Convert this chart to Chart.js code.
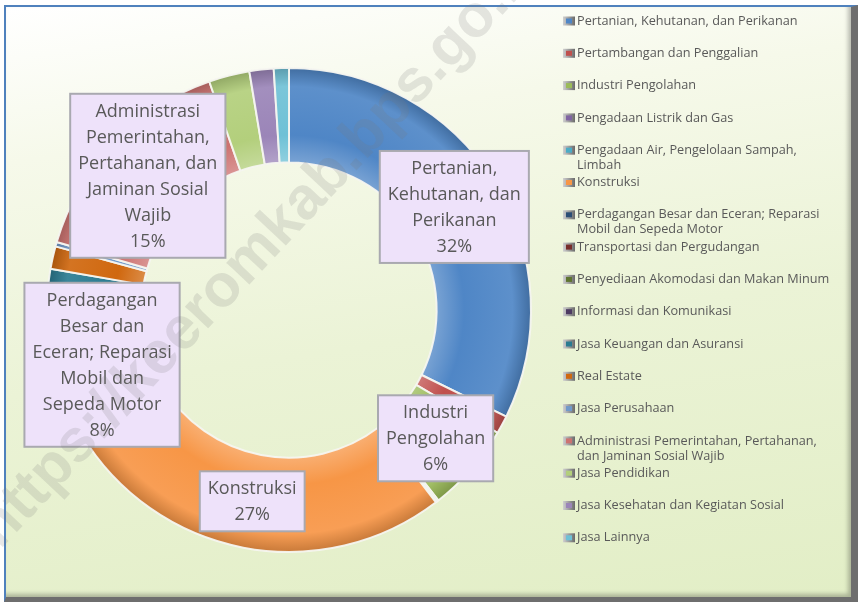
<!DOCTYPE html>
<html>
<head>
<meta charset="utf-8">
<script src="https://cdn.jsdelivr.net/npm/chart.js@4.4.0/dist/chart.umd.min.js"></script>
<style>
  html, body { margin: 0; padding: 0; background: #fff; }
  .frame {
    position: absolute; left: 4px; top: 5px; width: 845px; height: 590px;
    border-top: 2px solid #4f81bd; border-left: 2px solid #4f81bd;
    border-right: 7px solid #6e6e6e; border-bottom: 5px solid #6e6e6e;
    background: linear-gradient(172deg, #ffffff 0%, #f6f9ea 22%, #ebf3d6 55%, #e2eec6 100%);
    box-shadow: inset -3px -3px 4px rgba(0,0,0,0.25);
  }
  #myChart { position: absolute; left: 0; top: 0; }
</style>
</head>
<body>
<div class="frame"></div>
<canvas id="myChart" width="861" height="603"></canvas>
<script>
const categories = [
  'Pertanian, Kehutanan, dan Perikanan',
  'Pertambangan dan Penggalian',
  'Industri Pengolahan',
  'Pengadaan Listrik dan Gas',
  'Pengadaan Air, Pengelolaan Sampah, Limbah',
  'Konstruksi',
  'Perdagangan Besar dan Eceran; Reparasi Mobil dan Sepeda Motor',
  'Transportasi dan Pergudangan',
  'Penyediaan Akomodasi dan Makan Minum',
  'Informasi dan Komunikasi',
  'Jasa Keuangan dan Asuransi',
  'Real Estate',
  'Jasa Perusahaan',
  'Administrasi Pemerintahan, Pertahanan, dan Jaminan Sosial Wajib',
  'Jasa Pendidikan',
  'Jasa Kesehatan dan Kegiatan Sosial',
  'Jasa Lainnya',
];
const shares = [32.0, 1.2, 5.9, 0.1, 0.1, 26.6, 8.0, 0.8, 0.5, 0.6, 1.3, 1.5, 0.3, 15.0, 2.7, 1.6, 1.0];
const colors = [
  '#4f86c6', '#c0504d', '#9bbb59', '#8064a2', '#4bacc6', '#f79646',
  '#2c4d75', '#772c2a', '#5f7530', '#4d3b62', '#2a7b91', '#d0680f',
  '#729aca', '#cd7371', '#b3cf7c', '#9b85b8', '#6fc1d6',
];

// minimum share that gets a label box
const labelMin = 5;

function shade(hex, f) {
  const n = parseInt(hex.slice(1), 16);
  let r = n >> 16, g = (n >> 8) & 255, b = n & 255;
  const t = f < 0 ? 0 : 255, p = Math.abs(f);
  r = Math.round((t - r) * p + r); g = Math.round((t - g) * p + g); b = Math.round((t - b) * p + b);
  return 'rgb(' + r + ',' + g + ',' + b + ')';
}

function wrap(ctx, text, maxW) {
  const words = text.split(' ');
  const lines = [];
  let line = '';
  words.forEach((w) => {
    const test = line ? line + ' ' + w : w;
    if (line && ctx.measureText(test).width > maxW) { lines.push(line); line = w; }
    else line = test;
  });
  lines.push(line);
  return lines;
}

const boxLabels = {
  id: 'boxLabels',
  afterDatasetsDraw(chart) {
    const ctx = chart.ctx;
    const meta = chart.getDatasetMeta(0);
    const total = shares.reduce((a, b) => a + b, 0);
    ctx.save();
    ctx.font = '18px "Open Sans"';
    ctx.textAlign = 'center';
    ctx.textBaseline = 'middle';
    meta.data.forEach((arc, i) => {
      const pct = shares[i] / total * 100;
      if (pct < labelMin) return;
      const lines = wrap(ctx, categories[i], 145);
      lines.push(Math.round(pct) + '%');
      const lh = 26;
      const w = Math.max(...lines.map((l) => ctx.measureText(l).width)) + 16;
      const h = lines.length * lh + 8;
      const p = arc.tooltipPosition();
      const x = p.x - w / 2, y = p.y - h / 2;
      ctx.fillStyle = '#eee2fa';
      ctx.fillRect(x, y, w, h);
      ctx.strokeStyle = '#a9a9b0';
      ctx.lineWidth = 2;
      ctx.strokeRect(x, y, w, h);
      ctx.fillStyle = '#595959';
      lines.forEach((l, k) => ctx.fillText(l, p.x, y + 4 + lh * k + lh / 2 + 1));
    });
    ctx.restore();
  },
};

const sideLegend = {
  id: 'sideLegend',
  afterDraw(chart) {
    const ctx = chart.ctx;
    ctx.save();
    ctx.font = '12.7px "Open Sans"';
    ctx.textBaseline = 'middle';
    categories.forEach((c, i) => {
      const y = 21 + i * 32.3;
      const g = ctx.createLinearGradient(563, 0, 575, 0);
      g.addColorStop(0, '#d0d0d0');
      g.addColorStop(1, '#6a6a6a');
      ctx.fillStyle = g;
      ctx.fillRect(563, y - 4.5, 12, 9);
      ctx.fillStyle = colors[i];
      ctx.fillRect(566, y - 2.5, 6, 5);
      ctx.fillStyle = '#595959';
      wrap(ctx, c, 259).forEach((l, k) => ctx.fillText(l, 577, y + k * 15));
    });
    // watermark over the picture
    ctx.translate(0, 550);
    ctx.rotate(-0.817);
    ctx.font = 'bold 60px "Liberation Sans"';
    ctx.fillStyle = 'rgba(120,120,120,0.18)';
    ctx.textBaseline = 'alphabetic';
    ctx.fillText('https://keeromkab.bps.go.id', 0, 0);
    ctx.restore();
  },
};

const ctx = document.getElementById('myChart');

new Chart(ctx, {
  type: 'doughnut',
  plugins: [boxLabels, sideLegend],
  data: {
    labels: categories,
    datasets: [
      {
        data: shares,
        backgroundColor: (c) => {
          const a = c.chart.chartArea;
          const col = colors[c.dataIndex];
          if (!a) return col;
          const cx = (a.left + a.right) / 2, cy = (a.top + a.bottom) / 2;
          const r = Math.min(a.right - a.left, a.bottom - a.top) / 2;
          const g = c.chart.ctx.createRadialGradient(cx, cy, r * 0.6, cx, cy, r);
          g.addColorStop(0, shade(col, 0.25));
          g.addColorStop(0.3, col);
          g.addColorStop(0.8, shade(col, 0.08));
          g.addColorStop(1, shade(col, -0.2));
          return g;
        },
        borderColor: 'rgba(245,245,240,0.95)',
        borderWidth: 2,
      },
    ],
  },
  options: {
    responsive: false,
    animation: false,
    cutout: '61%',
    layout: { padding: { left: 46, top: 67, right: 329, bottom: 50 } },
    plugins: {
      legend: { display: false },
      tooltip: { enabled: false },
    },
  },
});
</script>
</body>
</html>
